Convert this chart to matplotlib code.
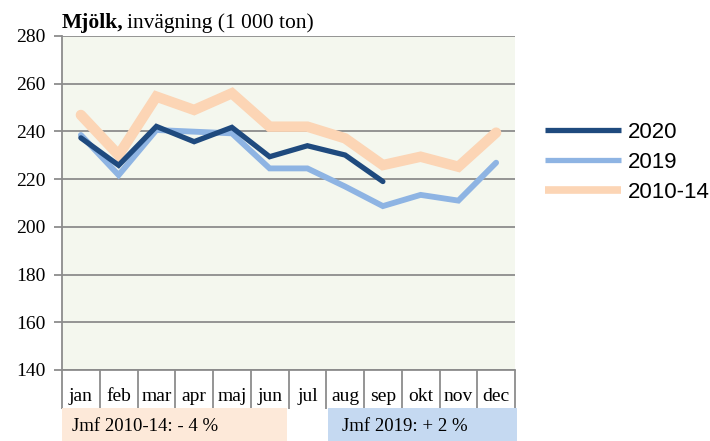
import numpy as np
import matplotlib
matplotlib.use("Agg")
import matplotlib.pyplot as plt
from matplotlib.patches import Rectangle
from matplotlib.lines import Line2D

months = ["jan", "feb", "mar", "apr", "maj", "jun", "jul", "aug", "sep", "okt", "nov", "dec"]
y2020 = [237.3, 225.8, 242.1, 235.7, 241.7, 229.4, 234.0, 230.1, 219.0]
y2019 = [238.5, 221.7, 240.6, 239.9, 239.2, 224.5, 224.5, 216.9, 208.7, 213.4, 211.0, 226.9]
y1014 = [246.9, 230.1, 254.6, 249.0, 256.0, 242.0, 242.0, 237.1, 225.9, 229.4, 225.2, 239.5]
yticks = [140, 160, 180, 200, 220, 240, 260, 280]

serif = "Liberation Serif"
sans = "Liberation Sans"
grey = "#8c8c8c"
c2020, c2019, c1014 = "#1f4a7e", "#8eb4e3", "#fcd5b5"

W, H = 710, 441
fig = plt.figure(figsize=(W / 100, H / 100), dpi=100)
ax = fig.add_axes([62 / W, 1 - 370 / H, (515 - 62) / W, (370 - 36) / H])
ax.set_facecolor("#f4f7ee")

x = np.arange(len(months))
ax.plot(x, y1014, color=c1014, lw=7.5, solid_capstyle="round", solid_joinstyle="miter")
ax.plot(x[:len(y2019)], y2019, color=c2019, lw=4.2, solid_capstyle="round", solid_joinstyle="miter")
ax.plot(x[:len(y2020)], y2020, color=c2020, lw=3.8, solid_capstyle="round", solid_joinstyle="miter")

ax.set_xlim(-0.5, len(months) - 0.5)
ax.set_ylim(140, 280)
ax.set_yticks(yticks)
ax.set_yticklabels([str(v) for v in yticks], fontfamily=serif, fontsize=14)
ax.yaxis.grid(True, color=grey, lw=1.3)
ax.set_axisbelow(True)
ax.tick_params(axis="y", length=6, color=grey, width=1.3, pad=6)

ax.set_xticks(x)
ax.set_xticklabels(months, fontfamily=serif, fontsize=14)
ax.set_xticks(np.arange(len(months) + 1) - 0.5, minor=True)
ax.tick_params(axis="x", which="major", length=0, pad=13)
ax.tick_params(axis="x", which="minor", length=28, color=grey, width=1.3, direction="out")

for s in ["top", "right"]:
    ax.spines[s].set_visible(False)
ax.spines["left"].set_color(grey)
ax.spines["left"].set_linewidth(1.3)
ax.spines["bottom"].set_color(grey)
ax.spines["bottom"].set_linewidth(1.3)

# comparison boxes under the month labels
y0 = -(408 - 370) / (370 - 36)
hh = -(441 - 370) / (370 - 36) - y0 - 0.01
ax.add_patch(Rectangle((0, y0), (287 - 62) / 453, hh, transform=ax.transAxes,
                       facecolor="#fde9d9", edgecolor="none", clip_on=False))
ax.add_patch(Rectangle(((328 - 62) / 453, y0), (517 - 328) / 453, hh, transform=ax.transAxes,
                       facecolor="#c5d9f1", edgecolor="none", clip_on=False))
fig.text(72 / W, 1 - 431 / H, "Jmf 2010-14: - 4 %", fontfamily=serif, fontsize=13.5, va="baseline")
fig.text(342 / W, 1 - 431 / H, "Jmf 2019: + 2 %", fontfamily=serif, fontsize=13.5, va="baseline")

# subtitle
fig.text(62 / W, 1 - 28 / H, "Mjölk,", fontfamily=serif, fontsize=15.5, fontweight="bold", va="baseline")
fig.text(127 / W, 1 - 28 / H, "invägning (1 000 ton)", fontfamily=serif, fontsize=15.5, va="baseline")

handles = [
    Line2D([], [], color=c2020, lw=3.8, solid_capstyle="butt"),
    Line2D([], [], color=c2019, lw=3.8, solid_capstyle="butt"),
    Line2D([], [], color=c1014, lw=5.5, solid_capstyle="butt"),
]
fig.legend(handles, ["2020", "2019", "2010-14"], loc="upper left", bbox_to_anchor=(545 / W, 1 - 122 / H),
           frameon=False, prop={"family": sans, "size": 16}, handlelength=3.4,
           handletextpad=0.35, labelspacing=0.4, borderpad=0, borderaxespad=0)

fig.savefig("out.png", dpi=100)
